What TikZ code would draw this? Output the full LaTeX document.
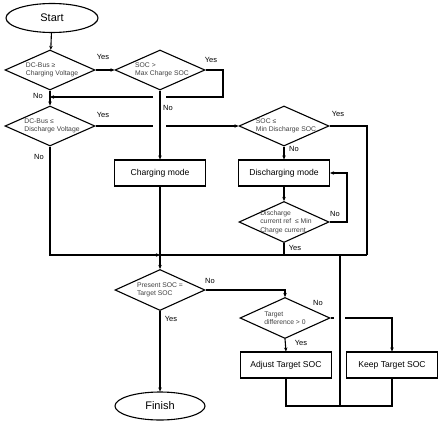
\documentclass[tikz,border=0pt]{standalone}
\usepackage{fontspec}
\setmainfont{Liberation Sans}
\usetikzlibrary{shapes.geometric,arrows.meta}
\begin{document}
\begin{tikzpicture}[x=1pt,y=-1pt,
  line width=1.1pt,
  arr/.style={-{Stealth[length=4pt,width=3.5pt]}},
  dia/.style={draw,diamond,minimum width=90pt,minimum height=40pt,inner sep=0pt},
  dtext/.style={font=\fontsize{6.8}{8.6}\selectfont,align=left,text=black!75},
  box/.style={draw,rectangle,minimum width=91pt,minimum height=26pt,inner sep=0pt,font=\fontsize{8.6}{10}\selectfont},
  term/.style={draw,ellipse,minimum width=92pt,minimum height=29pt,inner sep=0pt,font=\fontsize{11}{13}\selectfont},
  lbl/.style={font=\fontsize{7.5}{9}\selectfont,inner sep=0pt}]
\useasboundingbox (0,0) rectangle (441,425);
% nodes
\node[term] (start) at (52,18) {Start};
\node[dia,label={[dtext,xshift=2pt]center:DC-Bus ≥\\Charging Voltage}] (d1) at (50,70) {};
\node[dia,label={[dtext,xshift=2pt]center:SOC >\\Max Charge SOC}] (d2) at (160,70) {};
\node[dia,label={[dtext,xshift=2pt]center:DC-Bus ≤\\Discharge Voltage}] (d3) at (50,126) {};
\node[dia,label={[dtext,xshift=2pt]center:SOC ≤\\Min Discharge SOC}] (d4) at (284,126) {};
\node[box] (charge) at (160,173) {Charging mode};
\node[box] (dis) at (284,173) {Discharging mode};
\node[dia,minimum height=41pt,label={[dtext,xshift=2pt]center:Discharge\\current ref\ \ ≤ Min\\Charge current}] (d5) at (284,222) {};
\node[dia,minimum height=41pt,label={[dtext]center:Present SOC =\\Target SOC}] (d6) at (160,290) {};
\node[dia,minimum height=41pt,label={[dtext]center:Target\\difference > 0}] (d7) at (285,318) {};
\node[box] (adj) at (286,365) {Adjust Target SOC};
\node[box] (keep) at (392,365) {Keep Target SOC};
\node[term,minimum width=90pt,minimum height=28pt] (fin) at (160,406) {Finish};
% coordinates
\coordinate (c1) at (223,70);
\coordinate (c2) at (223,97);
\coordinate (g1) at (166,97);
\coordinate (g2) at (153,97);
\coordinate (m1) at (50,97);
\coordinate (g3) at (153,126);
\coordinate (g4) at (166,126);
\coordinate (c3) at (367,126);
\coordinate (c4) at (367,255);
\coordinate (c5) at (347,222);
\coordinate (c6) at (347,173);
\coordinate (c7) at (50,255);
\coordinate (m2) at (160,255);
\coordinate (c8) at (284,255);
\coordinate (c9) at (340,255);
\coordinate (c10) at (340,406);
\coordinate (c11) at (285,290);
\coordinate (g5) at (334,318);
\coordinate (g6) at (345,318);
\coordinate (c12) at (392,318);
\coordinate (c13) at (286,406);
\coordinate (c14) at (392,406);
% connectors
\draw[arr] (start) -- (d1);
\draw[arr] (d1.east) -- (d2.west);
\draw (d2.east) -- (c1) -- (c2) -- (g1);
\draw[arr] (g2) -- (m1);
\draw[arr] (d1.south) -- (d3.north);
\draw[arr] (d2.south) -- (charge.north);
\draw (d3.east) -- (g3);
\draw[arr] (g4) -- (d4.west);
\draw (d4.east) -- (c3) -- (c4);
\draw[arr] (d4.south) -- (dis.north);
\draw[arr] (dis.south) -- (d5.north);
\draw[arr] (d5.east) -- (c5) -- (c6) -- (dis.east);
\draw (d5.south) -- (c8);
\draw[arr] (d3.south) -- (c7) -- (m2);
\draw (charge.south) -- (m2);
\draw (c4) -- (m2);
\draw[arr] (m2) -- (d6.north);
\draw (c9) -- (c10);
\draw[arr] (d6.east) -- (c11) -- (d7.north);
\draw[arr] (d6.south) -- (fin.north);
\draw (d7.east) -- (g5);
\draw[arr] (g6) -- (c12) -- (keep.north);
\draw[arr] (d7.south) -- (adj.north);
\draw (adj.south) -- (c13) -- (c14) -- (keep.south);
% labels
\node[lbl] (y1) at (103,57) {Yes};
\node[lbl] (y2) at (211,60) {Yes};
\node[lbl] (n1) at (38,96) {No};
\node[lbl] (n2) at (168,108) {No};
\node[lbl] (y3) at (103,115) {Yes};
\node[lbl] (n3) at (39,157) {No};
\node[lbl] (y4) at (338,114) {Yes};
\node[lbl] (n4) at (294,149) {No};
\node[lbl] (n5) at (335,214) {No};
\node[lbl] (y5) at (295,248) {Yes};
\node[lbl] (n6) at (210,281) {No};
\node[lbl] (y6) at (171,319) {Yes};
\node[lbl] (n7) at (318,303) {No};
\node[lbl] (y7) at (301,343) {Yes};
\end{tikzpicture}
\end{document}
